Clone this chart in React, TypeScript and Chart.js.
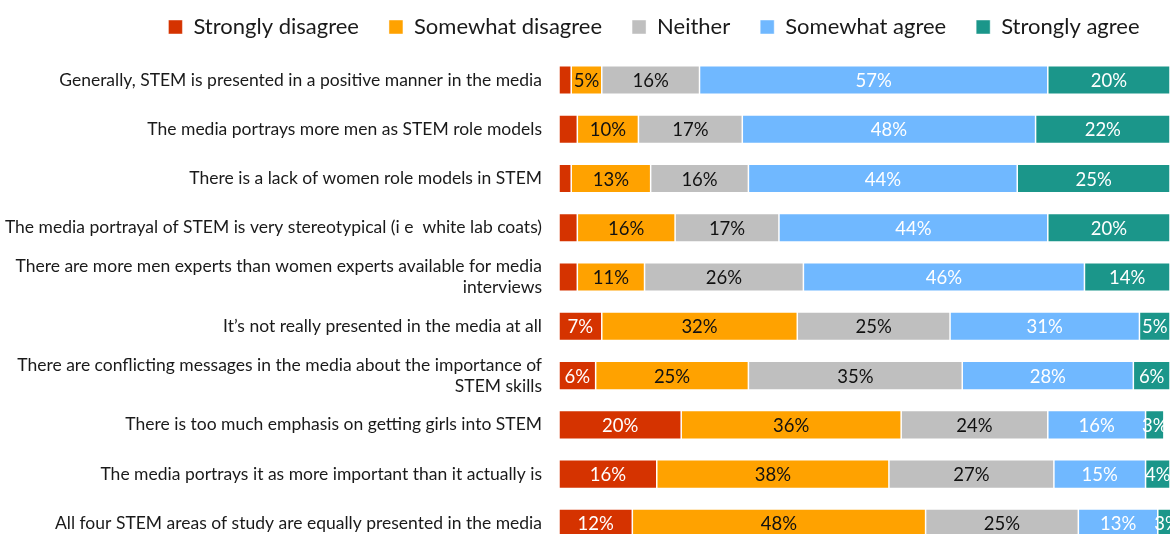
import { useEffect, useRef } from "react";
import Chart from "chart.js/auto";

const categories: (string | string[])[] = [
  "Generally, STEM is presented in a positive manner in the media",
  "The media portrays more men as STEM role models",
  "There is a lack of women role models in STEM",
  "The media portrayal of STEM is very stereotypical (i e  white lab coats)",
  ["There are more men experts than women experts available for media", "interviews"],
  "It’s not really presented in the media at all",
  ["There are conflicting messages in the media about the importance of", "STEM skills"],
  "There is too much emphasis on getting girls into STEM",
  "The media portrays it as more important than it actually is",
  "All four STEM areas of study are equally presented in the media",
];

const seriesNames = ["Strongly disagree", "Somewhat disagree", "Neither", "Somewhat agree", "Strongly agree"];
const stronglyDisagree = [2, 3, 2, 3, 3, 7, 6, 20, 16, 12];
const somewhatDisagree = [5, 10, 13, 16, 11, 32, 25, 36, 38, 48];
const neither = [16, 17, 16, 17, 26, 25, 35, 24, 27, 25];
const somewhatAgree = [57, 48, 44, 44, 46, 31, 28, 16, 15, 13];
const stronglyAgree = [20, 22, 25, 20, 14, 5, 6, 3, 4, 3];

const colors = ["#D53300", "#FFA200", "#BFBFBF", "#70B8FF", "#1B968A"];
const labelColors = ["#FFFFFF", "#111111", "#111111", "#FFFFFF", "#FFFFFF"];
const FONT = "Lato";

const valueLabels = {
  id: "valueLabels",
  afterDatasetsDraw(chart: any) {
    const ctx = chart.ctx;
    ctx.save();
    ctx.font = `18.5px ${FONT}`;
    ctx.textAlign = "center";
    ctx.textBaseline = "middle";
    chart.data.datasets.forEach((ds: any, di: number) => {
      const meta = chart.getDatasetMeta(di);
      meta.data.forEach((el: any, i: number) => {
        const v = ds.data[i];
        if (di === 0 && v < 5) return;
        const { x, base, y } = el.getProps(["x", "base", "y"], true);
        ctx.fillStyle = labelColors[di];
        ctx.fillText(v + "%", (x + base) / 2, y + 1);
      });
    });
    ctx.restore();
  },
};

export default function App() {
  const ref = useRef<HTMLCanvasElement>(null);
  useEffect(() => {
    if (!ref.current) return;
    const values = [stronglyDisagree, somewhatDisagree, neither, somewhatAgree, stronglyAgree];
    const chart = new Chart(ref.current, {
      type: "bar",
      data: {
        labels: categories as any,
        datasets: values.map((d, i) => ({
          label: seriesNames[i],
          data: d,
          backgroundColor: colors[i],
          borderColor: "rgba(255,255,255,0.6)",
          borderWidth: 0.75,
          borderSkipped: false,
          categoryPercentage: 1,
          barPercentage: 0.58,
        })),
      },
      options: {
        indexAxis: "y",
        animation: false,
        responsive: false,
        devicePixelRatio: 1,
        layout: { padding: { top: -20, bottom: 0, left: 0, right: 0 } },
        plugins: {
          tooltip: { enabled: false },
          title: {
            display: true,
            text: "",
            weight: 500,
            font: { size: 1, lineHeight: 1 },
            padding: { top: 6.4, bottom: 0 },
          } as any,
          legend: {
            position: "top",
            labels: {
              font: { family: FONT, size: 22 },
              color: "#1a1a1a",
              boxWidth: 14,
              boxHeight: 14,
              padding: 30,
            },
          },
        },
        scales: {
          x: { stacked: true, min: 0, max: 100, display: false },
          y: {
            stacked: true,
            grid: { display: false, drawTicks: false },
            border: { display: false },
            ticks: { font: { family: FONT, size: 17.5 }, color: "#1a1a1a", padding: 17 },
            afterFit(scale: any) {
              scale.width = 559;
              scale.paddingTop = 55.4;
              scale.paddingBottom = 0;
            },
          },
          y2: {
            type: "linear",
            axis: "y",
            position: "right",
            display: true,
            grid: { display: false, drawTicks: false },
            border: { display: false },
            ticks: { display: false },
            afterFit(scale: any) {
              scale.width = 138;
              scale.paddingTop = 0;
              scale.paddingBottom = 0;
            },
          },
        } as any,
      },
      plugins: [valueLabels],
    });
    return () => chart.destroy();
  }, []);
  return (
    <div style={{ position: "absolute", left: 0, top: 0, width: 1170, height: 534, overflow: "hidden", background: "#fff" }}>
      <canvas ref={ref} width={1308} height={548} style={{ display: "block" }} />
    </div>
  );
}
